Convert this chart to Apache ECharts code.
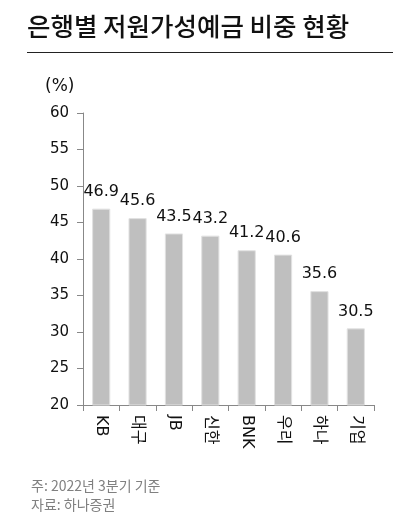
<!DOCTYPE html>
<html>
<head>
<meta charset="utf-8">
<script src="https://cdn.jsdelivr.net/npm/echarts@6/dist/echarts.min.js"></script>
<style>
  html, body { margin: 0; padding: 0; background: #fff; }
  #chart { width: 400px; height: 516px; }
</style>
</head>
<body>
<div id="chart"></div>
<script>
const banks = ['KB', '대구', 'JB', '신한', 'BNK', '우리', '하나', '기업']
const ratios = [46.9, 45.6, 43.5, 43.2, 41.2, 40.6, 35.6, 30.5]
const titleText = '은행별 저원가성예금 비중 현황'
const noteText = '주: 2022년 3분기 기준'
const sourceText = '자료: 하나증권'
const krFont = '"Noto Sans CJK KR", "Noto Sans", sans-serif'
const numFont = '"DejaVu Sans", "Noto Sans CJK KR", sans-serif'

const myChart = echarts.init(document.getElementById('chart'))
myChart.setOption({
  animation: false,
  grid: { left: 83, right: 26, top: 113, bottom: 111 },
  graphic: [
    { type: 'text', left: 27, top: 14, style: { text: titleText, font: '500 25.5px ' + krFont, fill: '#111' } },
    { type: 'line', shape: { x1: 27, y1: 52.5, x2: 393, y2: 52.5 }, style: { stroke: '#222', lineWidth: 1 } },
    { type: 'text', left: 45, top: 78, style: { text: '(%)', font: '17px ' + numFont, fill: '#111' } },
    { type: 'text', left: 31, top: 479, style: { text: noteText, font: '14px ' + krFont, fill: '#808080' } },
    { type: 'text', left: 31, top: 498, style: { text: sourceText, font: '14px ' + krFont, fill: '#808080' } }
  ],
  xAxis: {
    type: 'category',
    data: banks,
    axisLine: { lineStyle: { color: '#888' } },
    axisTick: { show: true, length: 6, lineStyle: { color: '#888' } },
    axisLabel: { rotate: -90, color: '#111', fontSize: 16, fontFamily: numFont, margin: 10 }
  },
  yAxis: {
    type: 'value',
    min: 20,
    max: 60,
    interval: 5,
    splitLine: { show: false },
    axisLine: { show: true, lineStyle: { color: '#888' } },
    axisTick: { show: true, inside: false, length: 6, lineStyle: { color: '#888' } },
    axisLabel: { color: '#111', fontSize: 15, fontFamily: numFont, margin: 14 }
  },
  series: [{
    type: 'bar',
    data: ratios,
    barWidth: '50%',
    itemStyle: { color: '#bfbfbf', borderColor: '#e2e2e2', borderWidth: 1 },
    label: { show: true, position: 'top', distance: 9, color: '#111', fontSize: 16, fontFamily: numFont }
  }]
})
</script>
</body>
</html>
